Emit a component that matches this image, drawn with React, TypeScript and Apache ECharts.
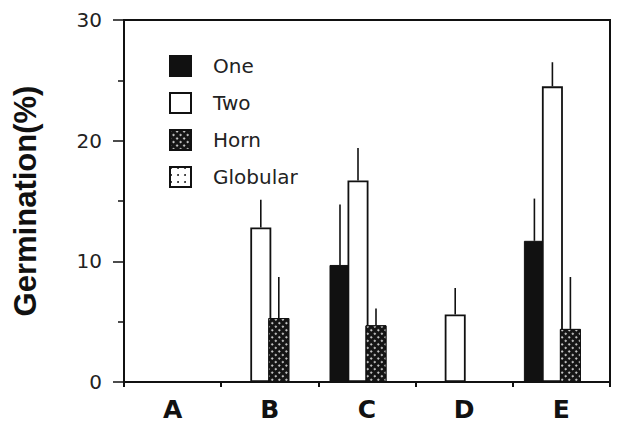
import React, { useEffect, useRef } from "react";
import * as echarts from "echarts";

const categories = ["A", "B", "C", "D", "E"];
const seriesNames = ["One", "Two", "Horn", "Globular"];
const oneValues = [null, null, 9.7, null, 11.7];
const oneErrTop = [null, null, 14.7, null, 15.2];
const twoValues = [null, 12.8, 16.7, 5.6, 24.5];
const twoErrTop = [null, 15.1, 19.4, 7.8, 26.5];
const hornValues = [null, 5.3, 4.7, null, 4.4];
const hornErrTop = [null, 8.7, 6.1, null, 8.7];
const globularValues = [null, null, null, null, null];
const yTicks = [0, 10, 20, 30];

const BAR_W = 21;
const BAR_OVERLAP = 3;

export default function App() {
  const ref = useRef<HTMLDivElement>(null);
  useEffect(() => {
    if (!ref.current) return;
    const chart = echarts.init(ref.current, undefined, { renderer: "svg" });
    const step = BAR_W - BAR_OVERLAP;
    const nSlots = seriesNames.length;
    const slotOffset = (i: number) => (i - (nSlots - 1) / 2) * step;

    const errSeries = (name: string, idx: number, vals: (number | null)[], tops: (number | null)[]) => ({
      type: "custom",
      name: name + "-err",
      silent: true,
      z: 1,
      data: vals
        .map((v, i) => (v == null || tops[i] == null ? null : [i, v, tops[i]]))
        .filter((d) => d !== null),
      renderItem: (params: any, api: any) => {
        const p0 = api.coord([api.value(0), api.value(1)]);
        const p1 = api.coord([api.value(0), api.value(2)]);
        const x = p0[0] + slotOffset(idx);
        return {
          type: "line",
          shape: { x1: x, y1: p0[1], x2: x, y2: p1[1] },
          style: { stroke: "#111", lineWidth: 1.6 },
        };
      },
    });

    const font = "DejaVu Sans";
    chart.setOption({
      animation: false,
      backgroundColor: "#fff",
      grid: {
        left: 124,
        right: 27,
        top: 20,
        bottom: 53,
        show: true,
        borderColor: "#111",
        borderWidth: 2,
        backgroundColor: "transparent",
      },
      legend: {
        orient: "vertical",
        left: 164,
        top: 50,
        itemWidth: 21,
        itemHeight: 20,
        itemGap: 15,
        icon: "rect",
        data: seriesNames,
        selectedMode: false,
        textStyle: { fontFamily: font, fontSize: 20, color: "#222", padding: [0, 0, 0, 17] },
      },
      xAxis: {
        type: "category",
        data: categories,
        axisLine: { lineStyle: { color: "#111", width: 2 } },
        axisTick: { show: true, length: 5, inside: false, lineStyle: { color: "#111", width: 2 } },
        axisLabel: { fontFamily: font, fontWeight: "bold", fontSize: 25, color: "#111", margin: 15 },
        splitLine: { show: false },
      },
      yAxis: {
        type: "value",
        min: yTicks[0],
        max: yTicks[yTicks.length - 1],
        interval: 10,
        name: "Germination(%)",
        nameLocation: "middle",
        nameGap: 83,
        nameTextStyle: { fontFamily: "Liberation Sans", fontWeight: "bold", fontSize: 31, color: "#111" },
        axisLine: { show: true, lineStyle: { color: "#111", width: 2 } },
        axisTick: { show: true, length: 11, lineStyle: { color: "#111", width: 1.5 } },
        minorTick: { show: true, splitNumber: 2, length: 6, lineStyle: { color: "#111", width: 1.5 } },
        axisLabel: { fontFamily: font, fontSize: 20, color: "#222", margin: 22 },
        splitLine: { show: false },
      },
      series: [
        {
          type: "bar",
          name: "One",
          data: oneValues,
          barWidth: BAR_W,
          barGap: `-${((BAR_OVERLAP / BAR_W) * 100).toFixed(1)}%`,
          z: 2,
          itemStyle: { color: "#111", borderColor: "#111", borderWidth: 1 },
        },
        {
          type: "bar",
          name: "Two",
          data: twoValues,
          barWidth: BAR_W,
          z: 2,
          itemStyle: { color: "#fff", borderColor: "#111", borderWidth: 1.8 },
        },
        {
          type: "bar",
          name: "Horn",
          data: hornValues,
          barWidth: BAR_W,
          z: 2,
          itemStyle: {
            color: "#151515",
            borderColor: "#111",
            borderWidth: 1,
            decal: {
              symbol: "circle",
              symbolSize: 0.9,
              color: "#ffffff",
              dashArrayX: [2, 3],
              dashArrayY: [2, 3],
              rotation: Math.PI / 4,
            },
          },
        },
        {
          type: "bar",
          name: "Globular",
          data: globularValues,
          barWidth: BAR_W,
          z: 2,
          itemStyle: {
            color: "#fff",
            borderColor: "#111",
            borderWidth: 1.8,
            decal: {
              symbol: "circle",
              symbolSize: 0.9,
              color: "#111",
              dashArrayX: [2, 5],
              dashArrayY: [2, 5],
            },
          },
        },
        errSeries("One", 0, oneValues, oneErrTop),
        errSeries("Two", 1, twoValues, twoErrTop),
        errSeries("Horn", 2, hornValues, hornErrTop),
      ],
    });
    return () => chart.dispose();
  }, []);
  return (
    <div
      ref={ref}
      style={{ position: "fixed", left: 0, top: 0, width: 637, height: 435, background: "#fff" }}
    />
  );
}
